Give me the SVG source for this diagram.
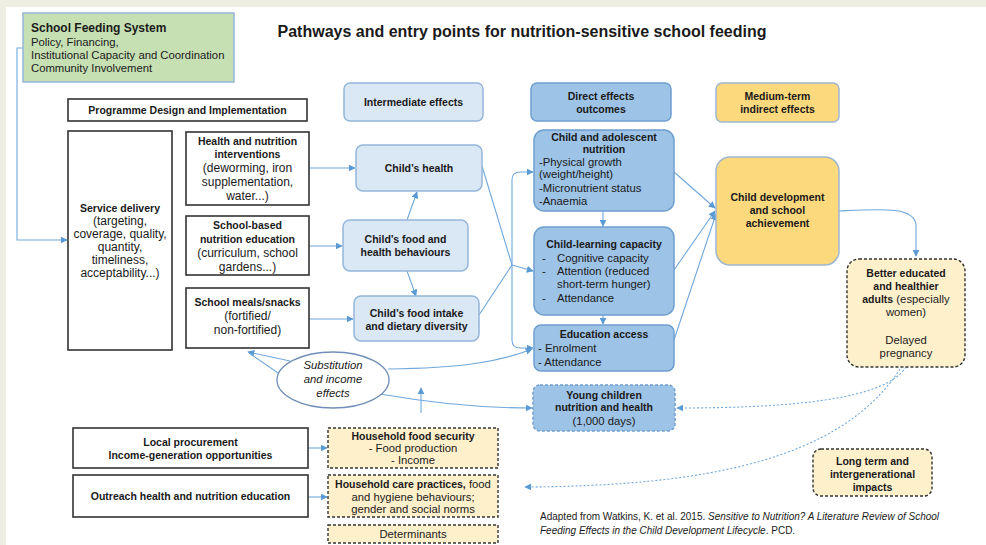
<svg xmlns="http://www.w3.org/2000/svg" width="986" height="545" viewBox="0 0 986 545">
<defs>
<marker id="ar" viewBox="0 0 10 10" refX="9" refY="5" markerWidth="7" markerHeight="7" markerUnits="userSpaceOnUse" orient="auto">
<path d="M0,0 L10,5 L0,10 z" fill="#5b9bd5"/>
</marker>
<style>
text{font-family:"Liberation Sans",Arial,sans-serif;fill:#1a1a1a;font-size:11.3px}
.b{font-weight:bold;font-size:10.5px}
.c{text-anchor:middle}
.it{font-style:italic}
.ttl{font-size:16px}
.hd{font-size:12px}
.lg{font-size:12px}
.cit{font-size:10px}
.blk{fill:#fff;stroke:#333;stroke-width:1.6}
.lb{fill:#dae7f4;stroke:#94b6da;stroke-width:1.5}
.mb{fill:#9dc3e6;stroke:#6f9fcf;stroke-width:1.5}
.yb{fill:#fdd97e;stroke:#9fb6cf;stroke-width:1.5}
.cr{fill:#fff0cc;stroke:#333;stroke-width:1.4;stroke-dasharray:3 2}
.con path{fill:none;stroke:#6fa8dc;stroke-width:1.1}
.dot{stroke-dasharray:2 2}
</style>
</defs>
<rect x="0" y="0" width="986" height="545" fill="#eeeee2"/>
<rect x="6" y="7" width="980" height="538" fill="#ffffff"/>

<text class="b c ttl" x="522" y="37">Pathways and entry points for nutrition-sensitive school feeding</text>

<g class="con">
<path d="M23,48 H17 V240 H67" marker-end="url(#ar)"/>
<path d="M309,168 H355" marker-end="url(#ar)"/>
<path d="M309,246 H342" marker-end="url(#ar)"/>
<path d="M309,319 H353" marker-end="url(#ar)"/>
<path d="M407,220 L417,192" marker-end="url(#ar)"/>
<path d="M407,271 L416,296" marker-end="url(#ar)"/>
<path d="M482,166 L512,265"/>
<path d="M479,315 L512,265"/>
<path d="M512,265 L533,271" marker-end="url(#ar)"/>
<path d="M512,265 V180 Q512,172 520,172 H533" marker-end="url(#ar)"/>
<path d="M512,265 V340 Q512,348 520,348 H533" marker-end="url(#ar)"/>
<path d="M603,211 V226" marker-end="url(#ar)"/>
<path d="M603,315 V324" marker-end="url(#ar)"/>
<path d="M674,172 L715,208" marker-end="url(#ar)"/>
<path d="M674,270 L715,211" marker-end="url(#ar)"/>
<path d="M674,340 L716,214" marker-end="url(#ar)"/>
<path d="M839,211 C880,209 916,206 916,226 V256" marker-end="url(#ar)"/>
<path class="dot" d="M906,367 C885,400 790,408 677,408" marker-end="url(#ar)"/>
<path class="dot" d="M900,369 C840,462 700,486 525,487" marker-end="url(#ar)"/>
<path d="M290,361 L248,352" marker-end="url(#ar)"/>
<path d="M278,373 Q262,362 249,353"/>
<path d="M388,369 C460,368 500,362 532,349" marker-end="url(#ar)"/>
<path d="M380,394 C420,401 470,408 532,408" marker-end="url(#ar)"/>
<path d="M421,413 V388" marker-end="url(#ar)"/>
<path d="M308,448 H327" marker-end="url(#ar)"/>
<path d="M308,497 H327" marker-end="url(#ar)"/>
</g>

<g id="school-feeding-system">
<rect x="23" y="13" width="211" height="69" fill="#c6e0b4" stroke="#94b6da" stroke-width="1.5"/>
<text class="b hd" x="31" y="32">School Feeding System</text>
<text x="31" y="46">Policy, Financing,</text>
<text x="31" y="59">Institutional Capacity and Coordination</text>
<text x="31" y="72">Community Involvement</text>
</g>

<g id="programme-design">
<rect class="blk" x="68" y="99" width="239" height="22"/>
<text class="b c" x="187.5" y="114">Programme Design and Implementation</text>
</g>

<g id="service-delivery">
<rect class="blk" x="68" y="131" width="104" height="219"/>
<text class="b c" x="120" y="212">Service delivery</text>
<text class="c lg" x="120" y="225">(targeting,</text>
<text class="c lg" x="120" y="238">coverage, quality,</text>
<text class="c lg" x="120" y="251">quantity,</text>
<text class="c lg" x="120" y="264">timeliness,</text>
<text class="c lg" x="120" y="277">acceptability...)</text>
</g>

<g id="health-nutrition-interventions">
<rect class="blk" x="186" y="132" width="123" height="73"/>
<text class="b c" x="247.5" y="145">Health and nutrition</text>
<text class="b c" x="247.5" y="158">interventions</text>
<text class="c lg" x="247.5" y="172">(deworming,  iron</text>
<text class="c lg" x="247.5" y="186">supplementation,</text>
<text class="c lg" x="247.5" y="200">water...)</text>
</g>

<g id="school-based-education">
<rect class="blk" x="186" y="216" width="123" height="59"/>
<text class="b c" x="247.5" y="229">School-based</text>
<text class="b c" x="247.5" y="243">nutrition education</text>
<text class="c lg" x="247.5" y="257">(curriculum, school</text>
<text class="c lg" x="247.5" y="271">gardens...)</text>
</g>

<g id="school-meals">
<rect class="blk" x="186" y="288" width="123" height="60"/>
<text class="b c" x="247.5" y="306">School meals/snacks</text>
<text class="c lg" x="247.5" y="320">(fortified/</text>
<text class="c lg" x="247.5" y="334">non-fortified)</text>
</g>

<g id="intermediate-effects">
<rect class="lb" x="344" y="83" width="139" height="38" rx="6"/>
<text class="b c" x="413.5" y="106">Intermediate effects</text>
</g>

<g id="direct-effects">
<rect class="mb" x="531" y="83" width="140" height="38" rx="6"/>
<text class="b c" x="601" y="100">Direct effects</text>
<text class="b c" x="601" y="113">outcomes</text>
</g>

<g id="medium-term">
<rect class="yb" x="716" y="83" width="123" height="39" rx="6"/>
<text class="b c" x="777.5" y="100">Medium-term</text>
<text class="b c" x="777.5" y="113">indirect effects</text>
</g>

<g id="childs-health">
<rect class="lb" x="356" y="145" width="126" height="46" rx="7"/>
<text class="b c" x="419" y="172">Child’s health</text>
</g>

<g id="childs-behaviours">
<rect class="lb" x="343" y="220" width="125" height="51" rx="7"/>
<text class="b c" x="405.5" y="243">Child’s food and</text>
<text class="b c" x="405.5" y="256">health behaviours</text>
</g>

<g id="childs-intake">
<rect class="lb" x="354" y="296" width="125" height="45" rx="7"/>
<text class="b c" x="416.5" y="317">Child’s food intake</text>
<text class="b c" x="416.5" y="330">and dietary diversity</text>
</g>

<g id="child-nutrition">
<rect class="mb" x="534" y="130" width="140" height="81" rx="10"/>
<text class="b c" x="604" y="141">Child and adolescent</text>
<text class="b c" x="604" y="153">nutrition</text>
<text x="539" y="166">-Physical growth</text>
<text x="539" y="178">(weight/height)</text>
<text x="539" y="192">-Micronutrient status</text>
<text x="539" y="205">-Anaemia</text>
</g>

<g id="child-learning">
<rect class="mb" x="534" y="227" width="140" height="88" rx="10"/>
<text class="b c" x="604" y="248">Child-learning capacity</text>
<text x="542" y="262">-</text><text x="557" y="262">Cognitive capacity</text>
<text x="542" y="275">-</text><text x="557" y="275">Attention (reduced</text>
<text x="557" y="288">short-term hunger)</text>
<text x="542" y="302">-</text><text x="557" y="302">Attendance</text>
</g>

<g id="education-access">
<rect class="mb" x="534" y="325" width="140" height="46" rx="7"/>
<text class="b c" x="604" y="338">Education access</text>
<text x="538" y="352">- Enrolment</text>
<text x="538" y="366">- Attendance</text>
</g>

<g id="young-children">
<rect class="mb" x="533" y="385" width="142" height="46" rx="7" stroke-dasharray="3 2"/>
<text class="b c" x="604" y="399">Young children</text>
<text class="b c" x="604" y="411">nutrition and health</text>
<text class="c" x="604" y="425">(1,000 days)</text>
</g>

<g id="child-development">
<rect class="yb" x="716" y="157" width="123" height="108" rx="14"/>
<text class="b c" x="777.5" y="201">Child development</text>
<text class="b c" x="777.5" y="214">and school</text>
<text class="b c" x="777.5" y="227">achievement</text>
</g>

<g id="better-educated">
<rect class="cr" x="847" y="259" width="118" height="108" rx="12"/>
<text class="b c" x="906" y="277">Better educated</text>
<text class="b c" x="906" y="290">and healthier</text>
<text class="c" x="906" y="303"><tspan class="b">adults</tspan> (especially</text>
<text class="c" x="906" y="316">women)</text>
<text class="c" x="906" y="344">Delayed</text>
<text class="c" x="906" y="357">pregnancy</text>
</g>

<g id="substitution">
<ellipse cx="333" cy="380" rx="56" ry="28" fill="#fff" stroke="#6f8fb8" stroke-width="1.3"/>
<text class="it c" x="333" y="369">Substitution</text>
<text class="it c" x="333" y="383">and income</text>
<text class="it c" x="333" y="397">effects</text>
</g>

<g id="local-procurement">
<rect class="blk" x="73" y="428" width="235" height="40"/>
<text class="b c" x="190.5" y="446">Local procurement</text>
<text class="b c" x="190.5" y="459">Income-generation opportunities</text>
</g>

<g id="outreach">
<rect class="blk" x="73" y="475" width="235" height="42"/>
<text class="b c" x="190.5" y="500">Outreach health and nutrition education</text>
</g>

<g id="household-food-security">
<rect class="cr" x="328" y="428" width="170" height="40"/>
<text class="b c" x="413" y="440">Household food security</text>
<text class="c" x="413" y="452">- Food  production</text>
<text class="c" x="413" y="464">- Income</text>
</g>

<g id="household-care">
<rect class="cr" x="328" y="475" width="170" height="42"/>
<text class="c" x="413" y="488"><tspan class="b">Household care practices,</tspan> food</text>
<text class="c" x="413" y="501">and hygiene behaviours;</text>
<text class="c" x="413" y="513">gender and social norms</text>
</g>

<g id="determinants">
<rect class="cr" x="328" y="525" width="170" height="18"/>
<text class="c" x="413" y="538">Determinants</text>
</g>

<g id="long-term">
<rect class="cr" x="813" y="449" width="119" height="47" rx="8"/>
<text class="b c" x="872.5" y="465">Long term and</text>
<text class="b c" x="872.5" y="478">intergenerational</text>
<text class="b c" x="872.5" y="491">impacts</text>
</g>

<g id="citation">
<text class="cit" x="540" y="520">Adapted from Watkins, K. et al. 2015. <tspan class="it">Sensitive to Nutrition? A Literature Review of School</tspan></text>
<text class="cit" x="540" y="534"><tspan class="it">Feeding Effects in the Child Development Lifecycle</tspan>. PCD.</text>
</g>
</svg>
